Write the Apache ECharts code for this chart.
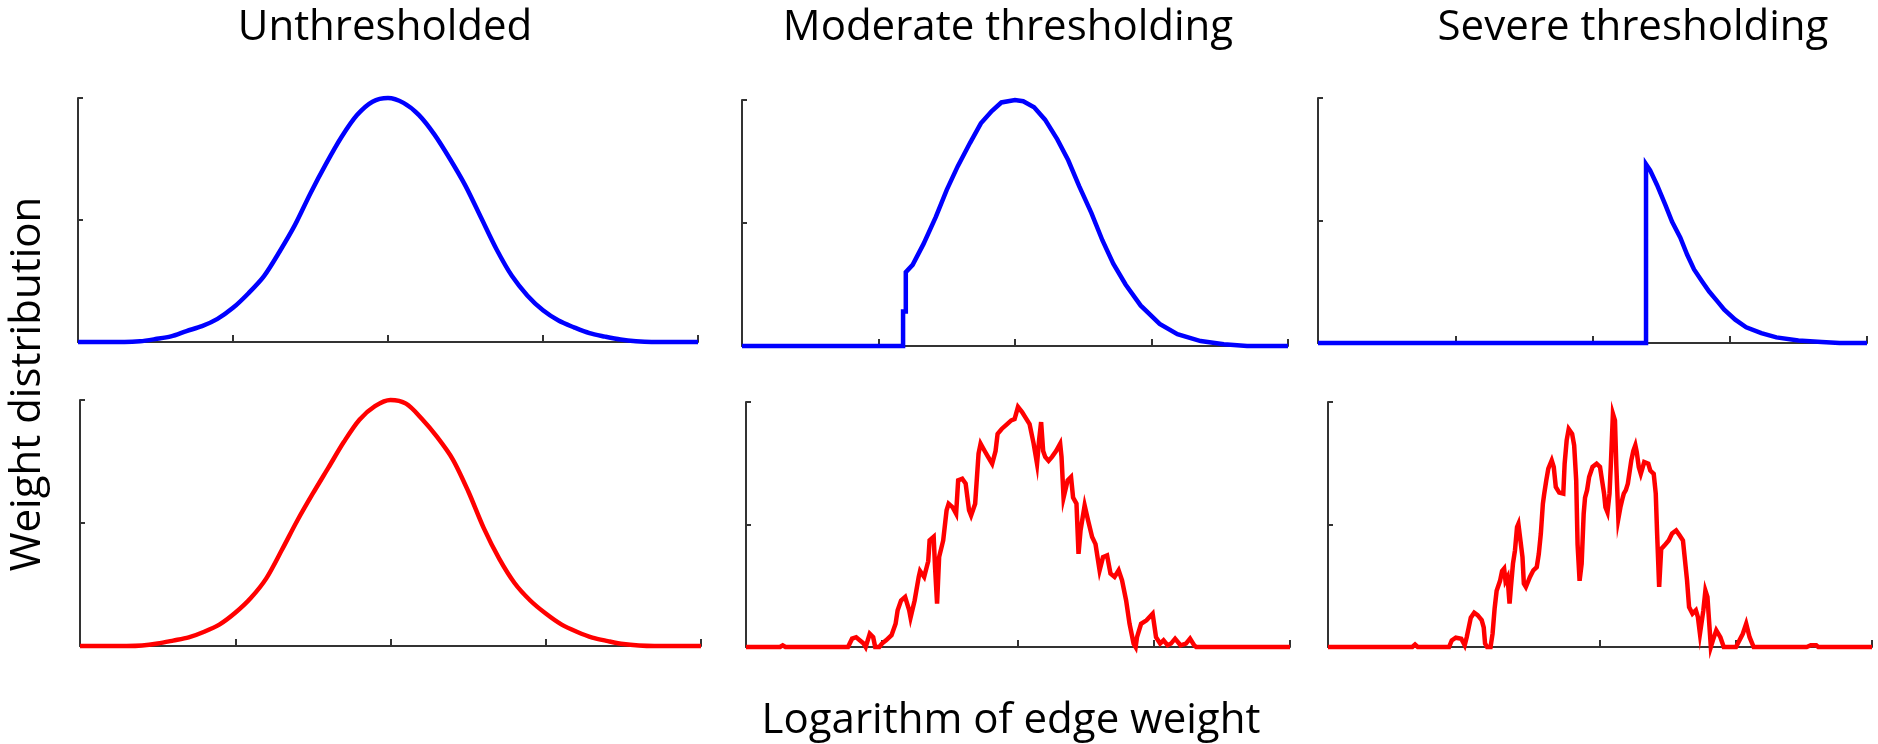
<!DOCTYPE html>
<html>
<head>
<meta charset="utf-8">
<script src="https://cdn.jsdelivr.net/npm/echarts@6/dist/echarts.min.js"></script>
<style>
html,body{margin:0;padding:0;background:#fff;}
#chart{width:1878px;height:744px;}
</style>
</head>
<body>
<div id="chart"></div>
<script>
// ---------- Data ----------
const panelTitles = ["Unthresholded", "Moderate thresholding", "Severe thresholding"];
const yAxisTitle = "Weight distribution";
const xAxisTitle = "Logarithm of edge weight";

// Top-left: unthresholded (blue)
const unthrBlueX = [0,0.1,0.2,0.3,0.4,0.5,0.6,0.7,0.8,0.9,1.0,1.1,1.2,1.3,1.4,1.5,1.6,1.7,1.8,1.9,2.0,2.1,2.2,2.3,2.4,2.5,2.6,2.7,2.8,2.9,3.0,3.1,3.2,3.3,3.4,3.5,3.6,3.7,3.8,3.9,4.0];
const unthrBlueY = [0,0,0,0,0.3,1.2,2.3,4.5,6.5,9.5,14,20,27,37,48,61,73,84,93,98.5,100,98,93,85,75,64,51,38,27,19,13,8.8,6,3.6,2.2,1,0.3,0,0,0,0];

// Top-middle: moderate thresholding (blue)
const modBlueX = [0,1.18,1.18,1.2,1.2,1.25,1.33,1.42,1.5,1.58,1.67,1.75,1.83,1.9,2.0,2.06,2.14,2.22,2.31,2.39,2.47,2.56,2.64,2.72,2.81,2.92,3.06,3.19,3.36,3.53,3.7,4];
const modBlueY = [0,0,14,14,30,33,41.5,52.5,63.5,73,82.5,90.5,95.5,99,100,99.5,97,92,84,75.5,65,54,43,33.5,25,16.5,9,4.8,2,0.7,0,0];

// Top-right: severe thresholding (blue)
const sevBlueX = [0,2.39,2.39,2.42,2.47,2.53,2.58,2.64,2.69,2.74,2.8,2.85,2.91,2.96,3.04,3.12,3.23,3.34,3.5,3.67,3.8,4];
const sevBlueY = [0,0,73,70.5,64.5,56.5,49.5,43,36,30,25,21,17,13.6,9.5,6.4,4,2.3,1,0.4,0,0];

// Bottom-left: unthresholded (red)
const unthrRedX = [0,0.1,0.2,0.3,0.4,0.5,0.6,0.7,0.8,0.9,1.0,1.1,1.2,1.3,1.4,1.5,1.6,1.7,1.8,1.9,2.0,2.1,2.2,2.3,2.4,2.5,2.6,2.7,2.8,2.9,3.0,3.1,3.2,3.3,3.4,3.5,3.6,3.7,3.8,3.9,4.0];
const unthrRedY = [0,0,0,0,0.2,1.0,2.2,3.5,5.8,8.8,13.5,19.5,27.5,39,51,62,72.5,83,92,97.5,100,98.5,92.5,85,76,63,48,35.5,25.5,18.5,13.2,8.8,5.8,3.4,2,0.8,0.2,0,0,0,0];

// Bottom-middle: moderate thresholding (red, noisy)
const modRedX = [0,0.25,0.27,0.29,0.75,0.78,0.81,0.865,0.88,0.91,0.935,0.95,0.98,1.0,1.03,1.07,1.1,1.115,1.14,1.17,1.2,1.21,1.24,1.27,1.28,1.31,1.34,1.35,1.38,1.39,1.405,1.42,1.45,1.475,1.49,1.52,1.545,1.56,1.59,1.615,1.64,1.655,1.685,1.71,1.725,1.755,1.78,1.81,1.835,1.85,1.88,1.92,1.95,1.975,2.0,2.03,2.06,2.085,2.115,2.14,2.155,2.17,2.185,2.2,2.225,2.25,2.28,2.31,2.32,2.335,2.365,2.39,2.405,2.43,2.445,2.46,2.49,2.515,2.545,2.57,2.6,2.625,2.655,2.68,2.71,2.74,2.765,2.795,2.82,2.85,2.865,2.875,2.905,2.945,2.99,3.015,3.045,3.07,3.1,3.125,3.155,3.195,3.235,3.265,3.295,3.31,4];
const modRedY = [0,0,0.7,0,0,3.4,4,1.4,0,5.4,4,0,0,1.4,2.7,4.8,9.5,15,19,20.4,15,12,19,28.6,31,28.6,35,43.5,45,32.6,17.7,36.7,43.5,55.8,58.5,57,54.4,68,68.7,66.7,55.8,53.7,58.5,79,83,80,77.6,74.8,80,87,89,91,92.5,93,98,95.9,93.2,91,83,74.8,84.4,91.8,80,77.6,76,77.6,80,83,77.6,61,68,69.4,61,58.5,38,47.6,57.8,51.7,44.9,42,31.3,36.7,37.4,30,28.6,31.3,27.2,19,9.5,1.4,0,4,9.5,10.9,13.6,4,1.4,2.7,0.7,1.4,3.4,0.7,1.4,3.4,0.7,0,0];

// Bottom-right: severe thresholding (red, noisy)
const sevRedX = [0,0.62,0.64,0.66,0.89,0.91,0.94,0.98,1.005,1.02,1.035,1.05,1.075,1.1,1.13,1.145,1.155,1.17,1.195,1.21,1.225,1.24,1.265,1.28,1.295,1.305,1.32,1.335,1.345,1.36,1.375,1.39,1.4,1.415,1.43,1.44,1.455,1.485,1.51,1.535,1.55,1.565,1.58,1.59,1.605,1.62,1.645,1.66,1.675,1.7,1.73,1.74,1.755,1.77,1.78,1.795,1.81,1.825,1.835,1.85,1.865,1.88,1.89,1.905,1.92,1.945,1.975,2.0,2.015,2.03,2.04,2.055,2.07,2.08,2.095,2.11,2.12,2.135,2.15,2.165,2.175,2.19,2.205,2.23,2.245,2.26,2.27,2.285,2.3,2.315,2.325,2.355,2.37,2.395,2.41,2.42,2.435,2.45,2.475,2.505,2.53,2.56,2.585,2.61,2.64,2.655,2.68,2.705,2.72,2.735,2.76,2.775,2.79,2.805,2.815,2.83,2.855,2.885,2.91,3.0,3.05,3.075,3.1,3.13,3.52,3.55,3.59,3.605,4];
const sevRedY = [0,0,1,0,0,2.7,3.8,3.4,0.7,4,8,12,14,13,11,8,1.4,0,0,5.4,15.6,23,27,31,32,27,28.6,17.7,24.5,34,39.5,49,50.3,43.5,36.7,25.9,24.5,28.6,31.3,32.6,38,46.3,58.5,62.6,68,72.8,76.2,73.5,65.3,63,62.6,74.8,84.4,89,89.8,87,82.3,68,42,27,34,54.4,61,64,69.4,73.5,74.8,73.5,68,62.6,57.1,55,62.6,74.8,95.2,92.5,74,52.4,57,60.5,62.6,64,66.7,76.2,80,82.3,79.6,73.5,70.7,73.5,75.5,74.8,72,70.7,62.6,46.3,24.5,40,41.5,43.5,46.3,47.6,45.6,43.5,27.2,16.3,13.6,15,12.2,5.4,15,23,20.4,8.2,0,2.7,6.8,4,0,0,5.4,9.5,4,0,0,0.7,0.7,0,0];

// ---------- Layout ----------
const panels = [
  {left:78,  top:98,  width:620, height:244, xs:unthrBlueX, ys:unthrBlueY, color:'#0000ff', smooth:0.3},
  {left:742, top:100, width:546, height:246, xs:modBlueX,   ys:modBlueY,   color:'#0000ff', smooth:false},
  {left:1318,top:98,  width:549, height:245, xs:sevBlueX,   ys:sevBlueY,   color:'#0000ff', smooth:false},
  {left:80,  top:400, width:621, height:246, xs:unthrRedX,  ys:unthrRedY,  color:'#ff0000', smooth:0.3},
  {left:746, top:402, width:544, height:245, xs:modRedX,    ys:modRedY,    color:'#ff0000', smooth:false},
  {left:1328,top:402, width:544, height:245, xs:sevRedX,    ys:sevRedY,    color:'#ff0000', smooth:false}
];

const axisColor = '#333333';
const grids = [], xAxes = [], yAxes = [], series = [];
panels.forEach((p, i) => {
  grids.push({left:p.left, top:p.top, width:p.width, height:p.height, containLabel:false});
  xAxes.push({
    gridIndex:i, type:'value', min:0, max:4, interval:1,
    axisLine:{show:true, onZero:false, lineStyle:{color:axisColor, width:2}},
    axisTick:{show:true, inside:true, length:7, lineStyle:{color:axisColor, width:2}},
    axisLabel:{show:false}, splitLine:{show:false}
  });
  yAxes.push({
    gridIndex:i, type:'value', min:0, max:100, interval:50,
    axisLine:{show:true, onZero:false, lineStyle:{color:axisColor, width:2}},
    axisTick:{show:true, inside:true, length:5, lineStyle:{color:axisColor, width:2}},
    axisLabel:{show:false}, splitLine:{show:false}
  });
  series.push({
    type:'line', xAxisIndex:i, yAxisIndex:i,
    data:p.xs.map((x, k) => [x, p.ys[k]]),
    showSymbol:false, clip:false, smooth:p.smooth,
    lineStyle:{color:p.color, width:4.5, join:'miter'},
    itemStyle:{color:p.color},
    z:5
  });
});

const font = '"Open Sans", "Noto Sans", sans-serif';
const txt = (text, x, y, rot) => ({
  type:'text', x:x, y:y, rotation: rot || 0,
  style:{text:text, fill:'#000', font:'42px ' + font, textAlign:'center', textVerticalAlign:'middle'}
});

const chart = echarts.init(document.getElementById('chart'), null, {renderer:'canvas'});
chart.setOption({
  animation:false,
  backgroundColor:'#ffffff',
  grid:grids, xAxis:xAxes, yAxis:yAxes, series:series,
  graphic:[
    txt(panelTitles[0], 385, 28),
    txt(panelTitles[1], 1008, 28),
    txt(panelTitles[2], 1633, 28),
    txt(xAxisTitle, 1011, 721),
    txt(yAxisTitle, 28, 384, Math.PI/2)
  ]
});
</script>
</body>
</html>
